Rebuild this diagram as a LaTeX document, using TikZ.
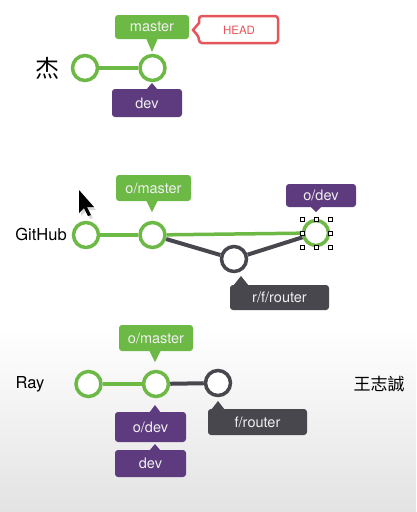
\documentclass[tikz,border=0pt]{standalone}
\usepackage{fontspec}
\setmainfont{TeX Gyre Heros}
\newfontfamily\cjk{Noto Sans CJK TC}
\definecolor{gitgreen}{HTML}{6CB945}
\definecolor{gitpurple}{HTML}{5E3B7E}
\definecolor{gitdark}{HTML}{47474D}
\definecolor{headred}{HTML}{E5565B}
\begin{document}
\begin{tikzpicture}[x=1pt,y=-1pt,
  commit/.style={circle,draw=gitgreen,fill=white,line width=3.5pt,inner sep=0pt,minimum size=25pt},
  dcommit/.style={commit,draw=gitdark},
  gline/.style={gitgreen,line width=3.5pt},
  dline/.style={gitdark,line width=4pt},
  tag/.style={rounded corners=3pt,inner sep=0pt,text=white!94!black,font=\fontsize{14.5}{16}\selectfont,text depth=0pt},
  gtag/.style={tag,fill=gitgreen},
  ptag/.style={tag,fill=gitpurple},
  dtag/.style={tag,fill=gitdark},
  handle/.style={draw=black,fill=white,line width=0.6pt,minimum size=4pt,inner sep=0pt},
  who/.style={font=\fontsize{16.5}{18}\selectfont}
]
\useasboundingbox (0,0) rectangle (416,512);
\fill[white] (0,0) rectangle (416,512);
\shade[top color=white,bottom color=black!11] (0,330) rectangle (416,512);

% ---------- top: local (杰)
\node[font=\cjk\fontsize{24}{26}\selectfont] (jie) at (47,68) {杰};
\node[commit] (a1) at (85,68) {};
\node[commit] (a2) at (152.5,68) {};
\draw[gline] (a1) -- (a2);

\node[gtag,minimum width=74pt,minimum height=24pt] (amaster) at (152,27) {master};
\fill[gitgreen] (146,38) -- (152,52) -- (158,38) -- cycle;

\node[ptag,minimum width=70pt,minimum height=28pt] (adev) at (147,103) {dev};
\fill[gitpurple] (146,90) -- (152,83) -- (158,90) -- cycle;

\draw[headred,line width=2.5pt,fill=white,rounded corners=3pt]
  (278,16) -- (278,43) -- (199,43) -- (199,37) [sharp corners] -- (193,30) -- (199,23) [rounded corners=3pt] -- (199,16) -- cycle;
\node[text=headred,font=\fontsize{11.5}{13}\selectfont] (head) at (239,30) {HEAD};

% ---------- middle: GitHub
\node[who] (gh) at (41,234) {GitHub};
\node[commit] (b1) at (86,235) {};
\node[commit] (b2) at (152.5,235) {};
\node[dcommit] (b3) at (234,259) {};
\node[commit] (b4) at (316,233) {};
\draw[gline] (b1) -- (b2);
\draw[dline] (b2) -- (b3);
\draw[dline] (b3) -- (b4);
\draw[gline] (b2) -- (b4);

\node[gtag,minimum width=75pt,minimum height=26pt] (bmaster) at (153.5,188) {o/master};
\fill[gitgreen] (146,200) -- (152,212) -- (158,200) -- cycle;

\node[ptag,minimum width=70pt,minimum height=23pt] (bdev) at (321,195.5) {o/dev};
\fill[gitpurple] (310,206) -- (316,212) -- (322,206) -- cycle;

\node[dtag,minimum width=99pt,minimum height=25pt] (brouter) at (279.5,297.5) {r/f/router};
\fill[gitdark] (233,286) -- (241,276) -- (249,286) -- cycle;

% selection handles
\foreach \hx/\hy [count=\i] in {302/219,316/219,330/219,302/233,330/233,302/247,316/247,330/247}
  \node[handle] (h\i) at (\hx,\hy) {};

% mouse cursor
\fill[black!15] (81,193) -- (81,216) -- (86,211) -- (90,219) -- (93,218) -- (89,210) -- (96,210) -- cycle;
\fill[black] (79,190) -- (79,213) -- (84,208) -- (88,216) -- (91,215) -- (87,207) -- (94,207) -- cycle;

% ---------- bottom: Ray / 王志誠
\node[who] (ray) at (30,384) {Ray};
\node[font=\cjk\fontsize{17}{19}\selectfont] (wang) at (379,384) {王志誠};
\node[commit] (c1) at (88.5,384) {};
\node[commit] (c2) at (156,384) {};
\node[dcommit] (c3) at (218,383) {};
\draw[gline] (c1) -- (c2);
\draw[dline] (c2) -- (c3);

\node[gtag,minimum width=74pt,minimum height=26pt] (cmaster) at (156,338) {o/master};
\fill[gitgreen] (149,350) -- (155,362) -- (161,350) -- cycle;

\node[ptag,minimum width=71pt,minimum height=30pt] (codev) at (150.5,427) {o/dev};
\fill[gitpurple] (149,413) -- (155,405) -- (161,413) -- cycle;

\node[ptag,minimum width=71pt,minimum height=27pt] (cdev) at (150.5,463.5) {dev};
\fill[gitpurple] (149,451) -- (155,444) -- (161,451) -- cycle;

\node[dtag,minimum width=99pt,minimum height=26pt] (crouter) at (257.5,422) {f/router};
\fill[gitdark] (211,410) -- (218,401) -- (225,410) -- cycle;
\end{tikzpicture}
\end{document}
